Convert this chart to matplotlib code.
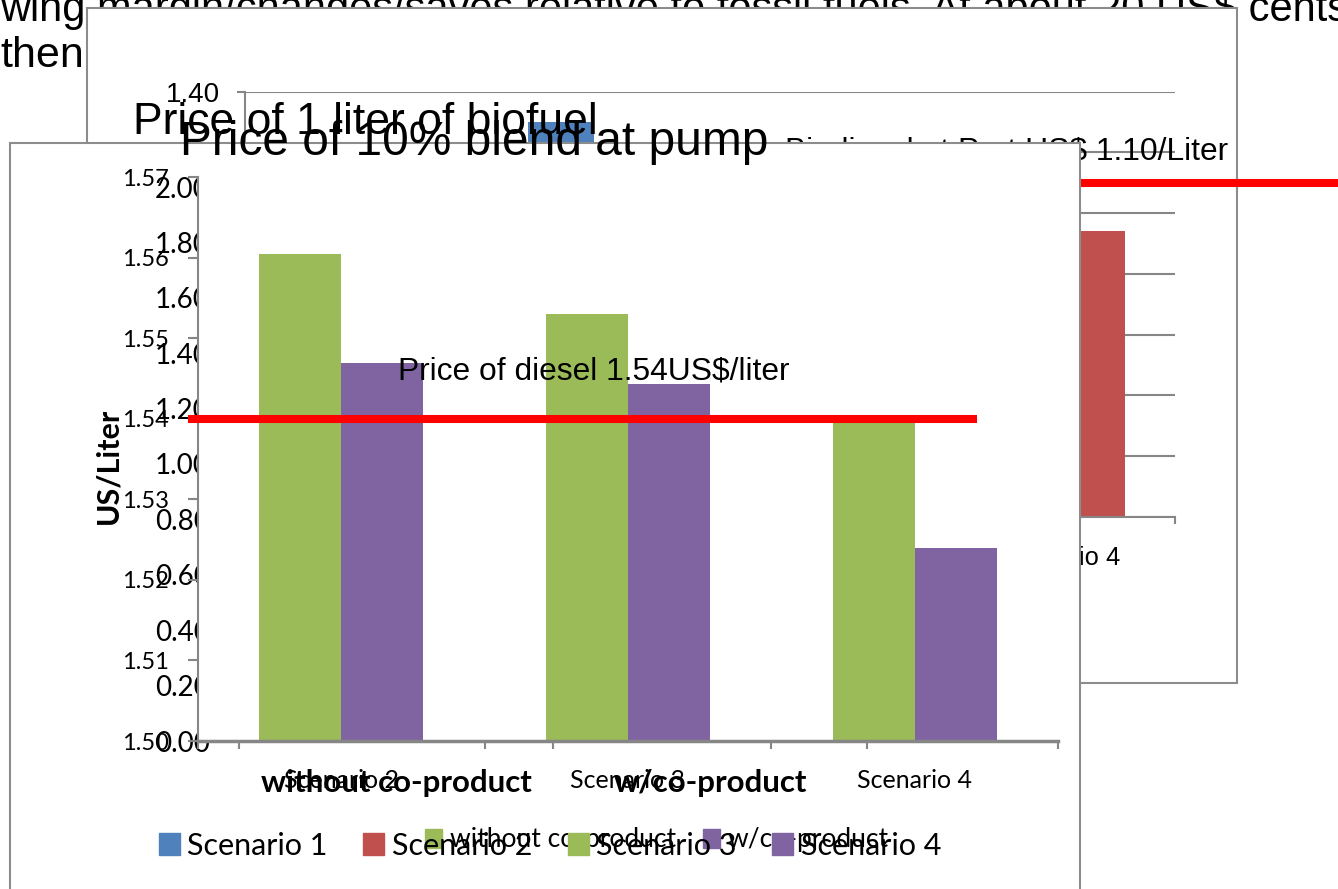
import matplotlib
matplotlib.use("Agg")
import matplotlib.pyplot as plt
import matplotlib.patches as mpatches
import numpy as np

W, H = 1338, 889
ARIAL = ["Liberation Sans", "DejaVu Sans"]
CALIBRI = ["Lato", "DejaVu Sans"]
GRAY = "#868686"
BLUE, RED, GREEN, PURPLE = "#4F81BD", "#C0504D", "#9BBB59", "#8064A2"

plt.rcParams["font.family"] = ARIAL

# back chart: biodiesel at port
port_cats = ["Scenario 1", "Scenario 2", "Scenario 3", "Scenario 4"]
port_blue = [1.05, 1.30, 0.95, 0.85]
port_red = [0.90, 1.10, 0.85, 0.94]
port_ticks = [0.0, 0.2, 0.4, 0.6, 0.8, 1.0, 1.2, 1.4]
port_price = 1.10

# middle chart: price of 1 liter of biofuel
coprod_cats = ["without co-product", "w/co-product"]
biofuel_ticks = [0.0, 0.2, 0.4, 0.6, 0.8, 1.0, 1.2, 1.4, 1.6, 1.8, 2.0]

# front chart: price of 10% blend at pump
blend_cats = ["Scenario 2", "Scenario 3", "Scenario 4"]
blend_without = [1.5604, 1.5530, 1.5396]
blend_with = [1.5469, 1.5443, 1.5239]
blend_ticks = [1.50, 1.51, 1.52, 1.53, 1.54, 1.55, 1.56, 1.57]
diesel_price = 1.54
scen_labels = ["Scenario 1", "Scenario 2", "Scenario 3", "Scenario 4"]
scen_colors = [BLUE, RED, GREEN, PURPLE]


def fbox(x0, y0, x1, y1):
    # pixel box (top-left origin) -> figure fraction rect
    return [x0 / W, 1 - y1 / H, (x1 - x0) / W, (y1 - y0) / H]


def frame(x0, y0, x1, y1, z):
    r = mpatches.Rectangle((x0 / W, 1 - y1 / H), (x1 - x0) / W, (y1 - y0) / H,
                           transform=fig.transFigure, facecolor="white",
                           edgecolor="#8c8c8c", linewidth=1.5, zorder=z)
    fig.add_artist(r)


fig = plt.figure(figsize=(W / 100, H / 100), dpi=100)

# slide text behind the charts
fig.text(0, 1 - 21 / H, "wing margin/changes/saves relative to fossil fuels. At about 20 US$ cents",
         fontsize=30, va="baseline", zorder=1)
fig.text(0, 1 - 67 / H, "then", fontsize=31, va="baseline", zorder=1)

# ---- back chart
frame(87, 8, 1237, 683, 2)
axA = fig.add_axes(fbox(245, 91.5, 1175, 517), zorder=3)
axA.patch.set_visible(False)
xa = np.arange(len(port_cats))
wa = 0.284
axA.bar(xa - wa / 2, port_blue, wa, color=BLUE, zorder=2)
axA.bar(xa + wa / 2, port_red, wa, color=RED, zorder=2)
axA.set_xlim(-0.5, 3.5)
axA.set_ylim(0, 1.4)
axA.set_yticks(port_ticks, ["%.2f" % v for v in port_ticks])
axA.yaxis.grid(True, color=GRAY, lw=1.5)
axA.set_axisbelow(True)
for s in ["top", "right"]:
    axA.spines[s].set_visible(False)
for s in ["left", "bottom"]:
    axA.spines[s].set_color(GRAY)
    axA.spines[s].set_linewidth(1.5)
axA.tick_params(axis="y", length=6, width=1.5, color=GRAY, pad=12, labelsize=20)
axA.set_xticks(xa, port_cats, fontsize=18.4)
axA.tick_params(axis="x", which="major", length=0, pad=21)
axA.set_xticks(np.arange(-0.5, 4, 1), minor=True)
axA.tick_params(axis="x", which="minor", length=5, width=1.5, color=GRAY)
axA.axhline(port_price, xmin=0, xmax=1.2, color="red", lw=5.8, clip_on=False,
            zorder=3, solid_capstyle="butt")
axA.text(0.5806, (517 - 159) / 425.5, "Biodiesel at Port US$ 1.10/Liter",
         transform=axA.transAxes, fontsize=22.9, va="baseline")

fig.text(133 / W, 1 - 134 / H, "Price of 1 liter of biofuel", fontsize=32,
         va="baseline", zorder=5)

# ---- middle / front chart area
frame(10, 143, 1080, 905, 4)

axB = fig.add_axes(fbox(239, 187, 867, 741), zorder=5)
axB.patch.set_visible(False)
for s in axB.spines.values():
    s.set_visible(False)
axB.set_xlim(-0.5, 1.5)
axB.set_ylim(0, 2)
axB.set_yticks(biofuel_ticks, ["%.2f" % v for v in biofuel_ticks],
               fontsize=20, family=CALIBRI)
axB.tick_params(axis="y", length=0, pad=21)
axB.set_xticks([0, 1], coprod_cats, fontsize=22.5, family=CALIBRI, fontweight="bold")
axB.tick_params(axis="x", which="major", length=0, pad=20)
axB.set_xticks([-0.5, 0.5, 1.5], minor=True)
axB.tick_params(axis="x", which="minor", length=6, width=1.5, color=GRAY)
hb = [mpatches.Patch(color=c) for c in [GREEN, PURPLE]]
axB.legend(hb, coprod_cats, loc="center", bbox_to_anchor=(657 / W, 1 - 840 / H),
           bbox_transform=fig.transFigure, ncol=2, frameon=False,
           prop={"family": CALIBRI, "size": 19}, handlelength=0.65, handleheight=0.75,
           handletextpad=0.3, columnspacing=1.0)
fig.text(108 / W, 1 - 466 / H, "US/Liter", rotation=90, ha="center", va="center",
         fontsize=22, fontweight="bold", family=CALIBRI, zorder=6)

axC = fig.add_axes(fbox(198, 177, 1058, 741), zorder=6)
axC.set_facecolor("white")
xc = np.arange(len(blend_cats))
wc = 0.286
axC.bar(xc - wc / 2, blend_without, wc, color=GREEN)
axC.bar(xc + wc / 2, blend_with, wc, color=PURPLE)
axC.set_xlim(-0.5, 2.5)
axC.set_ylim(1.50, 1.57)
axC.set_yticks(blend_ticks, ["%.2f" % v for v in blend_ticks], fontsize=17, family=CALIBRI)
axC.tick_params(axis="y", length=7, width=1.5, color=GRAY, pad=14)
axC.set_xticks(xc, blend_cats, fontsize=18, family=CALIBRI)
axC.tick_params(axis="x", which="major", length=0, pad=20)
axC.set_xticks([-0.5, 0.5, 1.5, 2.5], minor=True)
axC.tick_params(axis="x", which="minor", length=6, width=1.5, color=GRAY)
for s in ["top", "right"]:
    axC.spines[s].set_visible(False)
axC.spines["left"].set_color(GRAY)
axC.spines["left"].set_linewidth(1.5)
axC.spines["bottom"].set_color(GRAY)
axC.spines["bottom"].set_linewidth(2.5)
axC.axhline(diesel_price, xmin=-0.0116, xmax=0.906, color="red", lw=5.8,
            clip_on=False, zorder=4, solid_capstyle="butt")
axC.text((398 - 198) / 860, (741 - 380) / 564, "Price of diesel 1.54US$/liter",
         transform=axC.transAxes, fontsize=22.9, va="baseline")
hc = [mpatches.Patch(color=c) for c in scen_colors]
axC.legend(hc, scen_labels, loc="center", bbox_to_anchor=(550 / W, 1 - 846 / H),
           bbox_transform=fig.transFigure, ncol=4, frameon=False,
           prop={"family": CALIBRI, "size": 22}, handlelength=0.68, handleheight=0.72,
           handletextpad=0.25, columnspacing=1.17)

fig.text(180 / W, 1 - 155 / H, "Price of 10% blend at pump", fontsize=34.5,
         va="baseline", zorder=10)

fig.savefig("out.png", dpi=100)
